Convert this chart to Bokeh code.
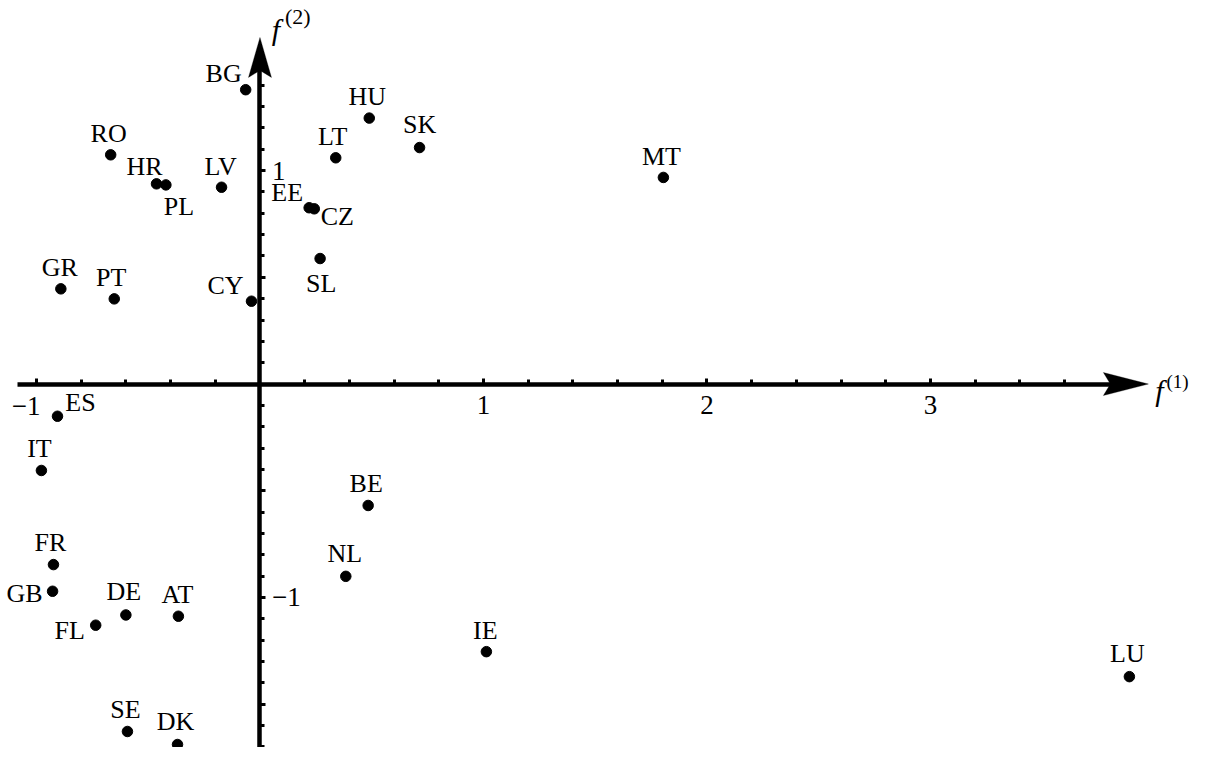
from bokeh.plotting import figure
from bokeh.models import (ColumnDataSource, FixedTicker, LinearAxis, PolyAnnotation)
from bokeh.embed import file_html
from bokeh.resources import INLINE
from bokeh.core.properties import value

# ---- data ----
countries = ["BG", "HU", "RO", "LT", "SK", "MT", "HR", "PL", "LV", "EE", "CZ", "SL",
             "GR", "PT", "CY", "ES", "IT", "BE", "FR", "NL", "GB", "DE", "AT", "FL",
             "IE", "LU", "SE", "DK"]
f1 = [-0.064, 0.489, -0.668, 0.339, 0.714, 1.805, -0.463, -0.421, -0.172, 0.220, 0.243, 0.269,
      -0.891, -0.652, -0.038, -0.906, -0.978, 0.484, -0.924, 0.384, -0.928, -0.600, -0.365, -0.735,
      1.013, 3.890, -0.593, -0.369]
f2 = [1.379, 1.246, 1.074, 1.060, 1.108, 0.968, 0.938, 0.933, 0.922, 0.826, 0.821, 0.588,
      0.446, 0.399, 0.388, -0.151, -0.405, -0.569, -0.846, -0.901, -0.971, -1.082, -1.088, -1.130,
      -1.254, -1.371, -1.628, -1.689]

# tick values / labels
x_major_ticks = [-1, 1, 2, 3]
x_minor_ticks = [round(-1 + 0.2 * k, 1) for k in range(24)]
y_major_ticks = [-1.5, -1, -0.5, 0.5, 1]
y_minor_ticks = [round(-1.7 + 0.1 * k, 1) for k in range(32)]
x_tick_labels = {-1: "", 1: "1", 2: "2", 3: "3"}
x_neg_label = "\u22121"
y_tick_labels = {-1.5: "", -1: "\u22121", -0.5: "", 0.5: "", 1: "1"}
x_title = ("f", "(1)")
y_title = ("f", "(2)")

# ---- label placement (screen px, y down) ----
label_dx = [-22, -2, -2, -3, 0, -2, -12, 13, -1, -22, 23, 1,
            -1, -3, -26, 23, -2, -2, -3, -1, -28, -2, -1, -26,
            -1, -2, -2, -2]
label_dy = [-16, -22, -21, -21, -23, -21, -17, 22, -21, -15, 8, 25,
            -21, -21, -16, -14, -22, -22, -22, -23, 2, -23, -22, 5,
            -21, -23, -22, -23]

W, H = 1189, 747
X0, X1 = -1.161, 4.159
Y0, Y1 = -1.703, 1.797
sx = W / (X1 - X0)
sy = H / (Y1 - Y0)
X_TIP = 3.975
Y_TIP = 1.624
FONT = "'Liberation Serif', 'Times New Roman', 'DejaVu Serif', serif"

src = ColumnDataSource(dict(name=countries, x=f1, y=f2, dx=label_dx, dy=label_dy))

p = figure(width=W, height=H, x_range=(X0, X1), y_range=(Y0, Y1),
           output_backend="svg", toolbar_location=None, min_border=0,
           x_axis_location=None, y_axis_location=None)
p.grid.visible = False
p.outline_line_color = None
p.background_fill_color = "white"
p.border_fill_color = "white"

# x axis through origin
xa = LinearAxis(fixed_location=0)
xa.ticker = FixedTicker(ticks=x_major_ticks, minor_ticks=x_minor_ticks)
xa.bounds = (-1.085, X_TIP - 35 / sx)
xa.axis_line_width = 4.5
xa.axis_line_color = "black"
xa.major_tick_in = 6
xa.major_tick_out = 0
xa.minor_tick_in = 5
xa.minor_tick_out = 0
xa.major_tick_line_width = 3
xa.minor_tick_line_width = 3
xa.major_label_overrides = x_tick_labels
xa.major_label_text_font = FONT
xa.major_label_text_font_size = "27px"
xa.major_label_text_color = "black"
xa.major_label_standoff = 12
p.add_layout(xa, "below")

# y axis through origin
ya = LinearAxis(fixed_location=0)
ya.ticker = FixedTicker(ticks=y_major_ticks, minor_ticks=y_minor_ticks)
ya.bounds = (Y0 - 0.1, Y_TIP - 30 / sy)
ya.axis_line_width = 4.5
ya.axis_line_color = "black"
ya.major_tick_out = 6
ya.major_tick_in = 0
ya.minor_tick_out = 5
ya.minor_tick_in = 0
ya.major_tick_line_width = 3
ya.minor_tick_line_width = 3
ya.major_label_overrides = y_tick_labels
ya.major_label_text_font = FONT
ya.major_label_text_font_size = "27px"
ya.major_label_text_color = "black"
ya.major_label_standoff = 6
ya.major_label_orientation = "horizontal"
p.add_layout(ya, "right")

# arrow heads
p.add_layout(PolyAnnotation(
    xs=[X_TIP, X_TIP - 45 / sx, X_TIP - 38 / sx, X_TIP - 45 / sx],
    ys=[0, 11.5 / sy, 0, -11.5 / sy],
    fill_color="black", fill_alpha=1, line_color="black", line_width=1))
p.add_layout(PolyAnnotation(
    xs=[0, 11.5 / sx, 0, -11.5 / sx],
    ys=[Y_TIP, Y_TIP - 40 / sy, Y_TIP - 33 / sy, Y_TIP - 40 / sy],
    fill_color="black", fill_alpha=1, line_color="black", line_width=1))

common = dict(text_font=value(FONT), text_color="black", text_baseline="middle")

# "-1" label on the x axis (digit aligned with the tick, as in the original)
p.text(x=[x_major_ticks[0]], y=[0], text=[x_neg_label], x_offset=4, y_offset=22,
       text_font_size="27px", text_align="right", **common)

# axis titles f^(1), f^(2)
p.text(x=[X_TIP], y=[0], text=[x_title[0]], x_offset=11, y_offset=6,
       text_font_size="30px", text_font_style="italic", text_align="center", **common)
p.text(x=[X_TIP], y=[0], text=[x_title[1]], x_offset=18, y_offset=-3,
       text_font_size="19px", text_align="left", **common)
p.text(x=[0], y=[Y_TIP], text=[y_title[0]], x_offset=16, y_offset=-8,
       text_font_size="30px", text_font_style="italic", text_align="center", **common)
p.text(x=[0], y=[Y_TIP], text=[y_title[1]], x_offset=25, y_offset=-21,
       text_font_size="22px", text_align="left", **common)

# points and labels
p.scatter("x", "y", source=src, size=10.5, color="black")
p.text("x", "y", text="name", source=src, x_offset="dx", y_offset="dy",
       text_font_size="26px", text_align="center", **common)

open("out.html", "w").write(file_html(p, INLINE))
